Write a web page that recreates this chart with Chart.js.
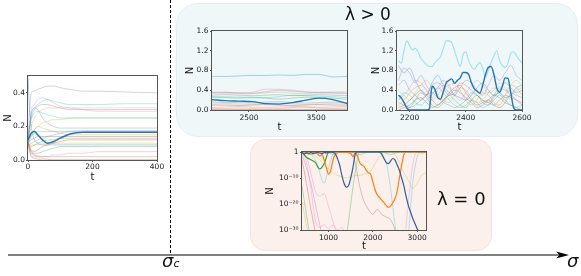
<!DOCTYPE html>
<html>
<head>
<meta charset="utf-8">
<script src="https://cdn.jsdelivr.net/npm/chart.js@4.4.0/dist/chart.umd.min.js"></script>
<style>
  html, body { margin: 0; padding: 0; background: #fff; }
  body { width: 581px; height: 276px; position: relative; overflow: hidden; font-family: "DejaVu Sans", sans-serif; }
  .box { position: absolute; box-sizing: border-box; }
  #boxPos  { left: 176px; top: 3px;   width: 402px; height: 134px; border-radius: 22px; background: #eff7f8; border: 1px solid #e5eff1; }
  #boxZero { left: 250px; top: 139px; width: 242px; height: 112px; border-radius: 15px; background: #fcf0ed; border: 1px solid #f4e4e0; }
  canvas { position: absolute; }
  svg { position: absolute; left: 0; top: 0; }
  .lbl { position: absolute; white-space: nowrap; color: #111; }
  #lamPos  { left: 345px; top: 6px;   font-size: 17px; line-height: 17px; }
  #lamZero { left: 437px; top: 190px; font-size: 18px; line-height: 18px; }
  #sigma   { left: 567px; top: 252px; font-size: 18px; line-height: 18px; font-style: italic; }
  #sigmaC  { left: 162px; top: 252px; font-size: 18px; line-height: 18px; font-style: italic; }
  #sigmaC span { font-size: 11px; }
</style>
</head>
<body>
<div class="box" id="boxPos"></div>
<div class="box" id="boxZero"></div>

<canvas id="cvLeft"></canvas>
<canvas id="cvMid"></canvas>
<canvas id="cvRight"></canvas>
<canvas id="cvZero"></canvas>

<svg width="581" height="276">
  <line x1="170.5" y1="0" x2="170.5" y2="256" stroke="#000" stroke-width="1" stroke-dasharray="3,2"/>
  <line x1="8" y1="255" x2="560" y2="255" stroke="#808080" stroke-width="2"/>
  <path d="M569,255 L556,251.5 L559.5,255 L556,258.5 Z" fill="#000"/>
</svg>

<div class="lbl" id="lamPos">λ &gt; 0</div>
<div class="lbl" id="lamZero">λ = 0</div>
<div class="lbl" id="sigma">σ</div>
<div class="lbl" id="sigmaC">σ<span>c</span></div>

<script>
// -----------------------------------------------------------------------------
// data
// -----------------------------------------------------------------------------

// left panel : sigma < sigma_c, everything settles
const leftT       = [0, 5, 10, 20, 30, 45, 60, 80, 100, 130, 170, 220, 300, 400];
const leftBlue    = [0.12, 0.14, 0.16, 0.17, 0.15, 0.12, 0.10, 0.11, 0.13, 0.155, 0.165, 0.165, 0.165, 0.165];
const leftPurpleA = [0.10, 0.30, 0.40, 0.41, 0.42, 0.43, 0.44, 0.44, 0.43, 0.42, 0.41, 0.41, 0.405, 0.40];
const leftCyanA   = [0.10, 0.20, 0.28, 0.31, 0.33, 0.35, 0.36, 0.35, 0.34, 0.33, 0.33, 0.33, 0.335, 0.335];
const leftPinkA   = [0.10, 0.20, 0.30, 0.33, 0.36, 0.37, 0.36, 0.34, 0.32, 0.31, 0.30, 0.29, 0.29, 0.29];
const leftOliveA  = [0.10, 0.15, 0.20, 0.25, 0.28, 0.30, 0.31, 0.31, 0.31, 0.31, 0.31, 0.31, 0.31, 0.31];
const leftPurpleB = [0.10, 0.20, 0.25, 0.30, 0.32, 0.33, 0.33, 0.32, 0.31, 0.30, 0.30, 0.30, 0.30, 0.30];
const leftGrayA   = [0.10, 0.20, 0.27, 0.31, 0.30, 0.25, 0.22, 0.20, 0.19, 0.19, 0.19, 0.19, 0.19, 0.19];
const leftCyanB   = [0.10, 0.18, 0.24, 0.28, 0.29, 0.28, 0.27, 0.26, 0.25, 0.25, 0.25, 0.25, 0.25, 0.25];
const leftOliveB  = [0.10, 0.12, 0.15, 0.18, 0.20, 0.22, 0.23, 0.24, 0.24, 0.25, 0.25, 0.25, 0.25, 0.25];
const leftCyanC   = [0.10, 0.12, 0.14, 0.16, 0.17, 0.17, 0.17, 0.17, 0.17, 0.17, 0.17, 0.17, 0.17, 0.17];
const leftPurpleC = [0.10, 0.10, 0.10, 0.11, 0.12, 0.13, 0.14, 0.15, 0.16, 0.17, 0.175, 0.175, 0.175, 0.175];
const leftOrangeA = [0.10, 0.12, 0.15, 0.18, 0.20, 0.19, 0.18, 0.17, 0.16, 0.15, 0.15, 0.15, 0.15, 0.15];
const leftBrown   = [0.10, 0.11, 0.12, 0.13, 0.14, 0.14, 0.14, 0.14, 0.14, 0.14, 0.14, 0.14, 0.14, 0.14];
const leftGreenA  = [0.10, 0.09, 0.08, 0.09, 0.10, 0.11, 0.12, 0.12, 0.13, 0.13, 0.13, 0.13, 0.13, 0.13];
const leftRedA    = [0.10, 0.08, 0.06, 0.05, 0.06, 0.08, 0.09, 0.10, 0.11, 0.12, 0.12, 0.12, 0.12, 0.12];
const leftBlueB   = [0.50, 0.30, 0.20, 0.12, 0.10, 0.09, 0.09, 0.09, 0.09, 0.09, 0.09, 0.09, 0.09, 0.09];
const leftOliveC  = [0.10, 0.09, 0.09, 0.09, 0.09, 0.10, 0.10, 0.10, 0.10, 0.10, 0.10, 0.10, 0.10, 0.10];
const leftGreenB  = [0.10, 0.07, 0.05, 0.04, 0.04, 0.05, 0.06, 0.07, 0.08, 0.08, 0.08, 0.08, 0.08, 0.08];
const leftPinkB   = [0.10, 0.06, 0.03, 0.02, 0.02, 0.02, 0.02, 0.03, 0.03, 0.04, 0.04, 0.05, 0.05, 0.05];
const leftGrayB   = [0.10, 0.06, 0.04, 0.03, 0.025, 0.02, 0.02, 0.02, 0.02, 0.02, 0.02, 0.02, 0.02, 0.02];
const leftRedB    = [0.10, 0.05, 0.02, 0.01, 0.005, 0, 0, 0, 0, 0, 0, 0, 0, 0];
const leftOrangeB = [0.10, 0.08, 0.05, 0.03, 0.02, 0.01, 0.005, 0, 0, 0, 0, 0, 0, 0];
const leftXTicks  = [0, 200, 400];
const leftXLabels = ['0', '200', '400'];
const leftYTicks  = [0, 0.2, 0.4];
const leftYLabels = ['0.0', '0.2', '0.4'];

// top middle panel : lambda > 0, slow drift
const midT       = [1950, 2150, 2350, 2550, 2750, 2950, 3150, 3350, 3550, 3750, 3960];
const midBlue    = [0.21, 0.19, 0.18, 0.17, 0.13, 0.12, 0.15, 0.20, 0.24, 0.21, 0.13];
const midBlueLt  = [0.68, 0.68, 0.69, 0.70, 0.70, 0.71, 0.70, 0.72, 0.72, 0.67, 0.68];
const midPurple  = [0.36, 0.36, 0.35, 0.34, 0.37, 0.40, 0.38, 0.36, 0.35, 0.34, 0.33];
const midPink    = [0.34, 0.35, 0.34, 0.36, 0.42, 0.42, 0.40, 0.37, 0.36, 0.36, 0.35];
const midOlive   = [0.35, 0.34, 0.33, 0.33, 0.35, 0.36, 0.34, 0.33, 0.35, 0.36, 0.37];
const midGray    = [0.30, 0.31, 0.30, 0.29, 0.30, 0.31, 0.29, 0.30, 0.31, 0.30, 0.29];
const midCyan    = [0.27, 0.27, 0.26, 0.26, 0.25, 0.27, 0.30, 0.29, 0.28, 0.27, 0.25];
const midGreen   = [0.26, 0.25, 0.24, 0.25, 0.24, 0.22, 0.24, 0.26, 0.25, 0.24, 0.22];
const midPurpleB = [0.16, 0.15, 0.15, 0.14, 0.16, 0.17, 0.15, 0.14, 0.15, 0.16, 0.15];
const midOliveB  = [0.12, 0.13, 0.12, 0.11, 0.13, 0.14, 0.12, 0.11, 0.12, 0.13, 0.12];
const midBrown   = [0.10, 0.10, 0.09, 0.10, 0.11, 0.10, 0.09, 0.10, 0.11, 0.10, 0.10];
const midPinkB   = [0.05, 0.06, 0.07, 0.06, 0.05, 0.06, 0.07, 0.06, 0.05, 0.06, 0.07];
const midOrange  = [0.03, 0.03, 0.04, 0.03, 0.02, 0.03, 0.05, 0.06, 0.04, 0.03, 0.04];
const midRed     = [0.01, 0.01, 0.01, 0.01, 0.01, 0.01, 0.01, 0.01, 0.01, 0.01, 0.01];
const midXTicks  = [2500, 3500];
const midXLabels = ['2500', '3500'];
const topYTicks  = [0, 0.4, 0.8, 1.2, 1.6];
const topYLabels = ['0.0', '0.4', '0.8', '1.2', '1.6'];

// top right panel : lambda > 0, strong fluctuations
const trT10 = [2160, 2170, 2180, 2190, 2200, 2210, 2220, 2230, 2240, 2250,
               2260, 2270, 2280, 2290, 2300, 2310, 2320, 2330, 2340, 2350,
               2360, 2370, 2380, 2390, 2400, 2410, 2420, 2430, 2440, 2450,
               2460, 2470, 2480, 2490, 2500, 2510, 2520, 2530, 2540, 2550,
               2560, 2570, 2580, 2590, 2600];
const trBlue = [0.30, 0.25, 0.15, 0.04, 0, 0, 0, 0, 0, 0,
                0, 0.02, 0.48, 0.42, 0.25, 0.22, 0.37, 0.55, 0.60, 0.63,
                0.54, 0.60, 0.65, 0.76, 0.76, 0.72, 0.55, 0.43, 0.38, 0.34,
                0.50, 0.72, 0.86, 0.88, 0.72, 0.45, 0.36, 0.48, 0.65, 0.64,
                0.35, 0.05, 0, 0, 0];
const trCyan = [1.00, 0.95, 1.20, 1.40, 1.30, 1.22, 1.25, 1.18, 1.05, 0.98,
                0.92, 0.88, 0.88, 0.96, 1.02, 1.08, 1.25, 1.40, 1.40, 1.36,
                1.20, 1.02, 0.88, 1.12, 1.18, 1.00, 0.88, 0.82, 0.90, 0.96,
                0.85, 0.66, 0.80, 0.96, 1.10, 1.20, 1.00, 0.90, 0.86, 0.95,
                1.15, 1.18, 1.10, 1.02, 0.95];
const trT20 = [2160, 2180, 2200, 2220, 2240, 2260, 2280, 2300, 2320, 2340, 2360, 2380,
               2400, 2420, 2440, 2460, 2480, 2500, 2520, 2540, 2560, 2580, 2600];
const trPurple   = [0.60, 0.85, 0.75, 0.55, 0.70, 0.50, 0.35, 0.45, 0.60, 0.50, 0.30, 0.45, 0.60, 0.55, 0.40, 0.30, 0.50, 0.70, 0.60, 0.75, 0.90, 0.70, 0.60];
const trBlueLt   = [0.90, 0.75, 0.85, 0.60, 0.40, 0.30, 0.55, 0.70, 0.50, 0.35, 0.30, 0.25, 0.20, 0.30, 0.45, 0.55, 0.40, 0.30, 0.35, 0.25, 0.30, 0.45, 0.50];
const trPink     = [0.20, 0.30, 0.45, 0.60, 0.55, 0.40, 0.25, 0.40, 0.50, 0.45, 0.30, 0.20, 0.35, 0.50, 0.60, 0.50, 0.35, 0.40, 0.55, 0.45, 0.30, 0.40, 0.45];
const trOrange   = [0.10, 0.20, 0.35, 0.45, 0.50, 0.40, 0.20, 0.30, 0.45, 0.50, 0.55, 0.40, 0.20, 0.10, 0.20, 0.35, 0.30, 0.15, 0.10, 0.30, 0.50, 0.45, 0.30];
const trGreen    = [0.30, 0.15, 0.05, 0.20, 0.35, 0.25, 0.10, 0.05, 0.15, 0.30, 0.20, 0.10, 0.05, 0.20, 0.30, 0.15, 0.10, 0.25, 0.40, 0.55, 0.45, 0.35, 0.40];
const trRed      = [0.05, 0.10, 0.20, 0.30, 0.40, 0.30, 0.20, 0.10, 0.20, 0.35, 0.45, 0.50, 0.35, 0.20, 0.10, 0.15, 0.20, 0.10, 0.05, 0.15, 0.30, 0.20, 0.10];
const trOlive    = [0.40, 0.30, 0.20, 0.35, 0.50, 0.60, 0.45, 0.30, 0.20, 0.15, 0.30, 0.45, 0.40, 0.25, 0.15, 0.20, 0.35, 0.45, 0.35, 0.20, 0.50, 0.60, 0.50];
const trBrown    = [0.00, 0.05, 0.10, 0.20, 0.25, 0.15, 0.05, 0.10, 0.20, 0.30, 0.40, 0.35, 0.25, 0.15, 0.05, 0.10, 0.20, 0.30, 0.25, 0.15, 0.10, 0.05, 0.00];
const trGray     = [0.15, 0.10, 0.05, 0.10, 0.20, 0.30, 0.35, 0.25, 0.15, 0.10, 0.05, 0.10, 0.20, 0.35, 0.30, 0.20, 0.15, 0.10, 0.20, 0.30, 0.25, 0.20, 0.15];
const trCyanLt   = [0.20, 0.35, 0.30, 0.15, 0.10, 0.20, 0.30, 0.45, 0.35, 0.20, 0.10, 0.05, 0.10, 0.20, 0.15, 0.05, 0.10, 0.20, 0.30, 0.20, 0.10, 0.05, 0.10];
const trLavender = [0.50, 0.60, 0.40, 0.30, 0.20, 0.30, 0.50, 0.55, 0.45, 0.30, 0.35, 0.55, 0.50, 0.40, 0.30, 0.20, 0.15, 0.30, 0.45, 0.40, 0.35, 0.30, 0.25];
const trXTicks  = [2200, 2400, 2600];
const trXLabels = ['2200', '2400', '2600'];

// bottom panel : lambda = 0, values are log10(N); a list that stops early has gone extinct
const botTFine = [400, 450, 500, 550, 600, 650, 700, 750, 800, 850,
                  900, 950, 1000, 1050, 1100, 1150, 1200, 1250, 1300, 1350,
                  1400, 1450, 1500, 1550, 1600, 1650, 1700, 1750, 1800, 1850,
                  1900, 1950, 2000, 2050, 2100, 2150, 2200, 2250, 2300, 2350,
                  2400, 2450, 2500, 2550, 2600, 2650, 2700, 2750, 2800, 2850,
                  2900, 2950, 3000, 3050, 3100, 3150, 3200];
const botBlueLog = [-0.2, -0.8, -0.3, -0.5, -0.2, -0.6, -0.3, -0.2, -0.4, -0.6,
                    -0.2, -0.3, -0.1, 0, -0.2, -0.6, -2.5, -5, -9, -12,
                    -13.5, -13, -10, -6, -1, 0, 0, 0, 0, 0,
                    0, 0, 0, 0, 0, 0, -0.8, -2.5, -4, -4.5,
                    -3.5, -2.5, -3, -5, -7, -10, -13, -17, -20.5, -23,
                    -25.5, -27.5, -29.5, -31, -33, -35, -37];
const botOrangeLog = [-0.3, -0.5, -0.2, -0.8, -0.3, -0.2, -0.5, -0.8, -1.5, -1,
                      -3, -6, -8.5, -7, -3, -1, -0.2, 0, -0.1, -0.2,
                      -0.1, -0.3, -0.6, -1.8, -0.3, -1.5, -4, -5, -5.5, -7,
                      -8, -8.5, -11.5, -14.5, -16.5, -17.5, -18.5, -19.5, -20.5, -21.3,
                      -20.8, -19.5, -18, -15, -10, -5, -1, 0, 0, 0,
                      0, 0, 0, 0, 0, 0, 0];
const botT = [400, 500, 600, 700, 800, 900, 1000, 1100, 1200, 1300, 1400, 1500, 1600, 1700, 1800,
              1900, 2000, 2100, 2200, 2300, 2400, 2500, 2600, 2700, 2800, 2900, 3000, 3100, 3200];
const botGreenLog = [0, -2, -3, -4, -6.5, -4.5, -0.2, 0, 0, 0, 0, 0, 0, 0, 0,
                     0, 0, 0, 0, 0, 0, 0, 0, 0, 0, 0, 0, 0, 0];
const botRedLog      = [-3, -12, -22, -31, -44];
const botPurpleLog   = [-1, -6, -12, -20, -28, -36, -44];
const botYellowLog   = [-19, -28, -36, -44];
const botBrownLog    = [0, -2, -8, -15, -17, -16, -21, -27, -33, -44];
const botGreenLtLog  = [-13, -24, -34, -40, -40, -40, -40, -40, -40, -40, -33, -20, -8, 0, 0,
                        0, 0, 0, 0, 0, 0, 0, 0, 0, 0, 0, 0, 0, 0];
const botPinkLog     = [0, -4, -14, -26, -29, -28, -29.5, -28, -30, -29, -34, -40, -40, -40, -40,
                        -40, -40, -40, -40, -40, -40, -40, -40, -36, -20, -5, 0, 0, 0];
const botOliveLog    = [0, 0, -0.5, -1.5, -3, -5, -6.5, -8, -9, -9.5, -10, -9.5, -9, -9, -8.5,
                        -8, -6, -3, -1, 0, 0, -1, -4, -8, -11, -14, -12, -9, -8];
const botLavenderLog = [0, 0, 0, 0, 0, -0.5, -0.3, 0, 0, 0, -0.2, -0.5, -4, -13, -19,
                        -22, -24, -22, -24, -25, -26, -30, -38, -44];
const botCyanLog     = [0, -0.3, -1, -3, -8, -12, -6, -1, 0, 0, 0, 0, 0, 0, 0,
                        0, 0, 0, -1, -4, -14, -28, -38, -44, -32, -12, -2, 0, 0];
const botGrayLog     = [0, -0.5, -1, -0.5, 0, 0, -0.3, -1, -0.5, 0, 0, 0, -0.5, -1, -0.5,
                        0, 0, 0, 0, -0.5, -1, -0.5, 0, 0, 0, 0, 0, -0.5, 0];
const botXTicks  = [1000, 2000, 3000];
const botXLabels = ['1000', '2000', '3000'];
const botYTicks  = [1e-30, 1e-20, 1e-10, 1];
const botYLabels = ['10⁻³⁰', '10⁻²⁰', '10⁻¹⁰', '1'];

// -----------------------------------------------------------------------------
// styling helpers
// -----------------------------------------------------------------------------

const TAB = {
   blue: [31, 119, 180], orange: [255, 127, 14], green: [44, 160, 44], red: [214, 39, 40],
   purple: [148, 103, 189], brown: [140, 86, 75], pink: [227, 119, 194], gray: [127, 127, 127],
   olive: [188, 189, 34], cyan: [23, 190, 207],
   navy: [52, 92, 158]
};
const FAINT = 0.33;

function rgba(c, a) {
   return `rgba(${c[0]},${c[1]},${c[2]},${a})`;
}

// build one line dataset; the y list may be shorter than the x grid
function line(xs, ys, color, alpha, width, fromLog) {
   return {
      data: ys.map((y, i) => ({ x: xs[i], y: fromLog ? Math.pow(10, y) : y })),
      borderColor: rgba(color, alpha),
      borderWidth: width,
      order: alpha < 1 ? 2 : 1
   };
}

// matplotlib like box round the plot area
const framePlugin = {
   id: 'frame',
   afterDatasetsDraw(chart) {
      const a = chart.chartArea, ctx = chart.ctx;
      ctx.save();
      ctx.strokeStyle = '#555';
      ctx.lineWidth = 1;
      ctx.strokeRect(a.left - 0.5, a.top - 0.5, a.right - a.left + 1, a.bottom - a.top + 1);
      ctx.restore();
   }
};

function axis(spec, horizontal, size) {
   return {
      type: spec.type || 'linear',
      min: spec.min,
      max: spec.max,
      afterBuildTicks: s => { s.ticks = spec.ticks.map(v => ({ value: v })); },
      afterFit: s => {
         if (horizontal) { s.height = size; s.paddingLeft = 0; s.paddingRight = 0; }
         else { s.width = size; s.paddingTop = 0; s.paddingBottom = 0; }
      },
      ticks: {
         autoSkip: false, maxRotation: 0, padding: spec.pad, color: '#222',
         font: { family: 'DejaVu Sans', size: 7.5 },
         callback: (v, i) => spec.labels[i]
      },
      grid: { drawOnChartArea: false, drawTicks: true, tickLength: 2, color: '#555' },
      border: { display: false },
      title: { display: true, text: spec.title, padding: 0, color: '#111', font: { family: 'DejaVu Sans', size: 10 } }
   };
}

function makePanel(id, geo, xSpec, ySpec, datasets) {
   const cv = document.getElementById(id);
   cv.width = geo.w;
   cv.height = geo.h;
   cv.style.left = geo.left + 'px';
   cv.style.top = geo.top + 'px';
   return new Chart(cv, {
      type: 'line',
      data: { datasets: datasets },
      options: {
         responsive: false,
         animation: false,
         devicePixelRatio: 1,
         layout: { padding: { top: geo.padTop, right: geo.padRight, left: 0, bottom: 0 } },
         plugins: { legend: { display: false }, tooltip: { enabled: false } },
         elements: { point: { radius: 0 }, line: { cubicInterpolationMode: 'monotone' } },
         scales: {
            x: axis(xSpec, true, geo.xH),
            y: axis(ySpec, false, geo.yW)
         }
      },
      plugins: [framePlugin]
   });
}

// -----------------------------------------------------------------------------
// the four panels
// -----------------------------------------------------------------------------

makePanel('cvLeft',
   { left: 2, top: 70, w: 167, h: 113, padTop: 6, padRight: 12, yW: 26, xH: 23 },
   { min: 0, max: 400, ticks: leftXTicks, labels: leftXLabels, pad: 1, title: 't' },
   { min: 0, max: 0.5, ticks: leftYTicks, labels: leftYLabels, pad: 1, title: 'N' },
   [
      line(leftT, leftBlue, TAB.blue, 1, 1.5),
      line(leftT, leftPurpleA, TAB.purple, FAINT, 1),
      line(leftT, leftCyanA, TAB.cyan, FAINT, 1),
      line(leftT, leftPinkA, TAB.pink, FAINT, 1),
      line(leftT, leftOliveA, TAB.olive, FAINT, 1),
      line(leftT, leftPurpleB, TAB.purple, FAINT, 1),
      line(leftT, leftGrayA, TAB.gray, FAINT, 1),
      line(leftT, leftCyanB, TAB.cyan, FAINT, 1),
      line(leftT, leftOliveB, TAB.olive, FAINT, 1),
      line(leftT, leftCyanC, TAB.cyan, FAINT, 1),
      line(leftT, leftPurpleC, TAB.purple, FAINT, 1),
      line(leftT, leftOrangeA, TAB.orange, FAINT, 1),
      line(leftT, leftBrown, TAB.brown, FAINT, 1),
      line(leftT, leftGreenA, TAB.green, FAINT, 1),
      line(leftT, leftRedA, TAB.red, FAINT, 1),
      line(leftT, leftBlueB, TAB.blue, FAINT, 1),
      line(leftT, leftOliveC, TAB.olive, FAINT, 1),
      line(leftT, leftGreenB, TAB.green, FAINT, 1),
      line(leftT, leftPinkB, TAB.pink, FAINT, 1),
      line(leftT, leftGrayB, TAB.gray, FAINT, 1),
      line(leftT, leftRedB, TAB.red, FAINT, 1),
      line(leftT, leftOrangeB, TAB.orange, FAINT, 1)
   ]);

makePanel('cvMid',
   { left: 184, top: 25, w: 175, h: 108, padTop: 6, padRight: 12, yW: 28, xH: 23 },
   { min: 1950, max: 3960, ticks: midXTicks, labels: midXLabels, pad: 1.5, title: 't' },
   { min: 0, max: 1.6, ticks: topYTicks, labels: topYLabels, pad: 1.5, title: 'N' },
   [
      line(midT, midBlue, TAB.blue, 1, 1.4),
      line(midT, midBlueLt, TAB.blue, FAINT, 1),
      line(midT, midPurple, TAB.purple, FAINT, 1),
      line(midT, midPink, TAB.pink, FAINT, 1),
      line(midT, midOlive, TAB.olive, FAINT, 1),
      line(midT, midGray, TAB.gray, FAINT, 1),
      line(midT, midCyan, TAB.cyan, FAINT, 1),
      line(midT, midGreen, TAB.green, FAINT, 1),
      line(midT, midPurpleB, TAB.purple, FAINT, 1),
      line(midT, midOliveB, TAB.olive, FAINT, 1),
      line(midT, midBrown, TAB.brown, FAINT, 1),
      line(midT, midPinkB, TAB.pink, FAINT, 1),
      line(midT, midOrange, TAB.orange, FAINT, 1),
      line(midT, midRed, TAB.red, FAINT, 1)
   ]);

makePanel('cvRight',
   { left: 370, top: 25, w: 164, h: 108, padTop: 6, padRight: 12, yW: 27, xH: 23 },
   { min: 2155, max: 2600, ticks: trXTicks, labels: trXLabels, pad: 1.5, title: 't' },
   { min: 0, max: 1.6, ticks: topYTicks, labels: topYLabels, pad: 1.5, title: 'N' },
   [
      line(trT10, trBlue, TAB.blue, 1, 1.4),
      line(trT10, trCyan, TAB.cyan, 0.38, 1.1),
      line(trT20, trPurple, TAB.purple, FAINT, 1),
      line(trT20, trBlueLt, TAB.blue, FAINT, 1),
      line(trT20, trPink, TAB.pink, FAINT, 1),
      line(trT20, trOrange, TAB.orange, FAINT, 1),
      line(trT20, trGreen, TAB.green, FAINT, 1),
      line(trT20, trRed, TAB.red, FAINT, 1),
      line(trT20, trOlive, TAB.olive, FAINT, 1),
      line(trT20, trBrown, TAB.brown, FAINT, 1),
      line(trT20, trGray, TAB.gray, FAINT, 1),
      line(trT20, trCyanLt, TAB.cyan, FAINT, 1),
      line(trT20, trLavender, TAB.purple, FAINT, 1)
   ]);

makePanel('cvZero',
   { left: 264, top: 146, w: 174, h: 106, padTop: 6, padRight: 12, yW: 38, xH: 22 },
   { min: 400, max: 3200, ticks: botXTicks, labels: botXLabels, pad: 2, title: 't' },
   { type: 'logarithmic', min: 1e-30, max: 1, ticks: botYTicks, labels: botYLabels, pad: 1.5, title: 'N' },
   [
      line(botTFine, botBlueLog, TAB.navy, 1, 1.2, true),
      line(botTFine, botOrangeLog, TAB.orange, 1, 1.2, true),
      line(botT, botGreenLog, TAB.green, 1, 1.2, true),
      line(botT, botRedLog, TAB.red, FAINT, 1, true),
      line(botT, botPurpleLog, TAB.purple, FAINT, 1, true),
      line(botT, botYellowLog, TAB.olive, FAINT, 1, true),
      line(botT, botBrownLog, TAB.pink, FAINT, 1, true),
      line(botT, botGreenLtLog, TAB.green, FAINT, 1, true),
      line(botT, botPinkLog, TAB.pink, FAINT, 1, true),
      line(botT, botOliveLog, TAB.olive, FAINT, 1, true),
      line(botT, botLavenderLog, TAB.brown, FAINT, 1, true),
      line(botT, botCyanLog, TAB.cyan, FAINT, 1, true),
      line(botT, botGrayLog, TAB.gray, FAINT, 1, true)
   ]);
</script>
</body>
</html>
